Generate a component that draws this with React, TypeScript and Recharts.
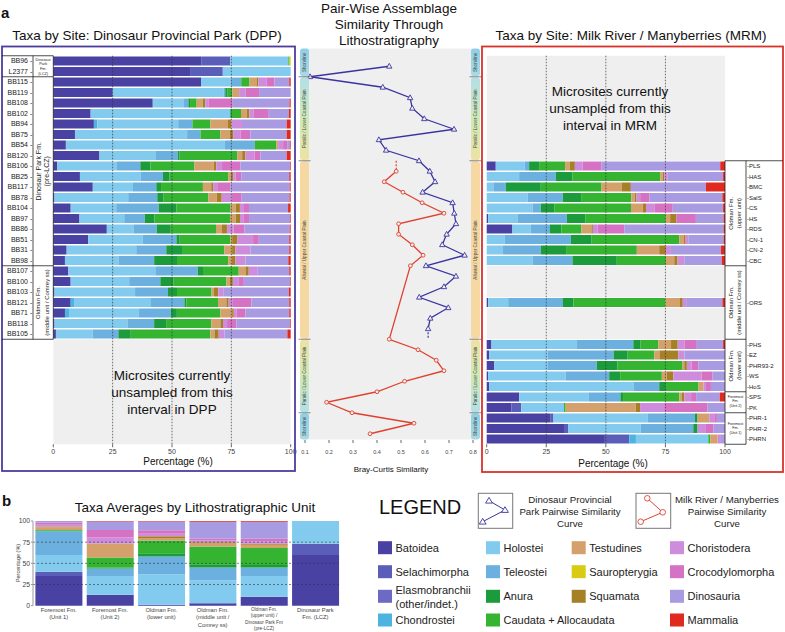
import React from "react";
import {
  BarChart,
  Bar,
  XAxis,
  YAxis,
  ReferenceArea,
  ReferenceLine,
  ScatterChart,
  Scatter,
  CartesianGrid,
} from "recharts";

const FONT = '"Liberation Sans", Arial, Helvetica, sans-serif';

// taxa in stacking order
const taxa = [
  "Batoidea",
  "Selachimorpha",
  "Elasmobranchii (other/indet.)",
  "Chondrostei",
  "Holostei",
  "Teleostei",
  "Anura",
  "Caudata + Allocaudata",
  "Testudines",
  "Sauropterygia",
  "Squamata",
  "Choristodera",
  "Crocodylomorpha",
  "Dinosauria",
  "Mammalia",
];
const taxaColors = [
  "#4a42a3", "#5b5eb9", "#6c6ac4", "#4db3e1", "#82cbee", "#6bb0df", "#1b9b3c", "#35b432",
  "#d4a06b", "#d8cb12", "#a68027", "#cd8cdc", "#d672c4", "#a99be2", "#e0291f",
];

// DPP sites (top to bottom) and % of each taxon
const dppSites = [
  "BB96", "L2377", "BB115", "BB119", "BB108", "BB102", "BB94", "BB75", "BB54", "BB120",
  "BB106", "BB25", "BB117", "BB78", "BB104", "BB97", "BB86", "BB51", "BB31", "BB98",
  "BB107", "BB100", "BB103", "BB121", "BB71", "BB118", "BB105",
];
const dppShares = [
  [62.5, 12, 0, 0, 24.5, 0, 0, 0.5, 0, 0.5, 0, 0, 0, 0, 0],
  [57.6, 13.8, 0, 0, 28.6, 0, 0, 0, 0, 0, 0, 0, 0, 0, 0],
  [62.1, 0, 0, 0, 12.4, 4.5, 0, 3.5, 2.9, 0, 0.8, 3.4, 3.4, 6.2, 0.6],
  [25, 0, 0, 0, 46.6, 0.7, 1, 2, 2.8, 0, 0, 2.8, 5.6, 13.3, 0],
  [41.9, 0, 0, 0, 12.9, 2.1, 0.7, 2.8, 2.5, 0, 1.1, 1.3, 10.3, 23.9, 0.5],
  [15.7, 0, 0, 0, 58.7, 0, 0.7, 3.8, 2.4, 0, 1.1, 1.7, 6.5, 8.4, 0.8],
  [17.1, 0, 0, 1.4, 34.1, 6, 0, 7.6, 7.4, 0, 1.4, 4.9, 0, 18.4, 1.7],
  [9.1, 0, 0, 0, 47.1, 5.6, 0, 8.4, 3.8, 0, 1.5, 3.1, 4.2, 15.2, 1.7],
  [5.3, 0, 0, 0, 67, 12.6, 0, 9.1, 0.7, 0, 0, 2.1, 1.7, 1.1, 0.4],
  [19.4, 0, 0, 0, 23.5, 9.4, 0.8, 24.2, 2.1, 0, 1.4, 3.8, 2.5, 11, 1.7],
  [1.7, 0, 0, 0, 25, 9.8, 4.2, 18.5, 8.1, 0, 1.1, 2.4, 7.7, 20.8, 0.3],
  [11.2, 0, 0, 0, 25.6, 9.3, 2.8, 24.6, 1, 0, 1.1, 1, 2.4, 20.2, 0.6],
  [16.6, 0, 0, 0, 16.9, 9.8, 2, 17.6, 3.5, 0, 0.8, 1.7, 5.6, 24.9, 0.4],
  [0.5, 0, 0, 0, 31, 12.2, 2.5, 19, 3.5, 0, 2.1, 4.2, 4.2, 20.1, 0.5],
  [7.3, 0, 0, 0, 19.1, 17.8, 7.4, 22.8, 2.1, 0, 1.8, 1.7, 2.1, 16.4, 1.1],
  [11, 0, 0, 0, 18.8, 8.6, 4.1, 31.7, 2.4, 0, 1.8, 1.4, 2.4, 17.2, 0.3],
  [22.5, 0, 0, 0, 11.2, 9.8, 5.9, 19, 2.5, 0, 2.1, 2.8, 4.5, 19.1, 0.4],
  [14.7, 0, 0, 0, 22.8, 14.2, 1.4, 21.3, 0.7, 0, 2.1, 6.7, 2.4, 12.8, 0.6],
  [5.6, 0, 0, 0, 29.2, 12.6, 6.6, 17.8, 3.2, 0, 1.4, 6.3, 0, 16.3, 0.6],
  [4.9, 0, 0, 0, 22.5, 15, 9.6, 21.5, 1.4, 0, 1.7, 4.2, 0, 18, 1],
  [6.3, 0, 0, 0, 36.5, 17.8, 2.2, 15, 2.8, 0, 1.4, 3.8, 0, 13.2, 0.6],
  [7.3, 0, 0, 0, 24.6, 13.1, 5.6, 22.2, 1.3, 0, 1.4, 2.5, 2.1, 19.4, 0.3],
  [0.5, 0, 0, 0, 33.8, 13.8, 3.8, 14.5, 1, 0, 1.8, 2.1, 0, 27.5, 0.8],
  [7.3, 0, 0, 1.4, 32, 14.3, 0.8, 13.3, 3.5, 0, 1, 1.8, 7.7, 15.9, 0.6],
  [4.9, 0, 0, 1.7, 29.2, 13.6, 2.5, 18.3, 4.9, 0, 0.7, 1.1, 3.8, 18.4, 0.6],
  [0.5, 0, 0, 0, 30.6, 11.2, 5.3, 18.7, 3.8, 0, 1.1, 1.7, 3.9, 22.5, 0.3],
  [1.1, 0, 0, 0, 15.4, 10.8, 5.2, 33.4, 1.7, 0, 1.8, 2.4, 0, 26.4, 1.4],
];
const dppUnsampledRows = 10;

// MRM sites (top to bottom) and % of each taxon
const mrmSites = [
  "PLS", "HAS", "BMC", "SalS", "CS", "HS", "RDS", "CN-1", "CN-2", "CBC", "ORS",
  "PHS", "EZ", "PHR93-2", "WS", "HoS", "SPS", "PK", "PHR-1", "PHR-2", "PHRN",
];
const mrmShares = [
  [3.8, 0, 0, 0, 12.2, 1.8, 4.2, 10.9, 2, 0, 2.1, 3.2, 8, 49.8, 2],
  [0, 0, 0, 0, 13.6, 15.4, 7, 36.8, 1, 0, 0.7, 1.4, 0, 23.2, 0.8],
  [0, 0, 0, 0, 2.8, 5.2, 14.7, 25.5, 8.4, 0, 3.9, 0, 0, 31.5, 8],
  [0, 0, 0, 0, 17.1, 14.7, 7.7, 21, 1.4, 0, 0.8, 1.5, 3.9, 30.5, 1.1],
  [0, 0, 0, 0, 19.2, 3.5, 5.6, 32.2, 4.9, 0, 1.4, 3.5, 7.7, 21.1, 0.8],
  [0.6, 0, 0, 0, 12.3, 20.7, 7.7, 33.8, 1.8, 0, 2.7, 0, 8.1, 11.6, 0.6],
  [10.8, 0, 0, 0, 7.7, 8.1, 4.8, 8.4, 4.2, 0, 0.6, 2, 11.2, 41.7, 0.6],
  [0, 0, 0, 0, 7.6, 27.7, 8.7, 36.8, 1.8, 0, 0.8, 1.1, 0, 14.8, 0.6],
  [0, 0, 0, 0, 6.6, 16.1, 10.9, 29.4, 9.4, 0, 2.8, 2.1, 0, 21, 1.7],
  [0, 0, 0, 0, 19.2, 16.8, 18.6, 20.6, 3.5, 0, 1.4, 2.8, 0, 15.7, 1.4],
  [0.6, 0, 0, 0, 8.4, 22.8, 4.6, 38.5, 5.9, 0, 1.4, 1.4, 0, 15.2, 1.1],
  [2, 0, 0, 0, 35.8, 23.6, 2.9, 7.6, 5.3, 0, 2.8, 2.8, 5.2, 11, 0.8],
  [1, 0, 0, 0, 24.5, 27.7, 5.9, 11.2, 2.1, 0, 8, 2.5, 0, 17, 0],
  [3.1, 0, 0, 0, 22.4, 20.7, 8.7, 27.3, 0.7, 0, 1.1, 2, 2.8, 11.2, 0],
  [0.6, 0, 0, 0, 32.6, 18.2, 4.6, 17.5, 2.1, 0, 2.7, 11.9, 4.6, 5.2, 0],
  [1, 0, 0, 0, 60.6, 10.8, 2.8, 13.7, 2.1, 0, 0, 1, 2.1, 5.9, 0],
  [13.6, 0, 0, 0, 29, 13.4, 1.1, 23.6, 1, 0, 1.1, 2.8, 2.1, 9.9, 2.2],
  [10.3, 4.2, 0, 0, 17.9, 0, 0, 0.7, 29.4, 0, 1.8, 10.1, 18.2, 7.3, 0],
  [26.6, 1.4, 0, 0, 39.4, 19.9, 1.1, 0, 4.9, 0, 0, 2.1, 1.1, 3.4, 0],
  [32.4, 1.7, 0, 0, 30.5, 22, 1.8, 0, 0, 0, 0, 3.5, 3.2, 4.8, 0],
  [49.5, 10.2, 0, 2.8, 30.3, 0, 0, 0.8, 3.1, 0, 0, 1.4, 0, 1.7, 0],
];
// unsampled rows inserted before these sites
const mrmGapsBefore: Record<string, number> = { PLS: 10, ORS: 3, PHS: 3 };

// Bray-Curtis similarity of consecutive sites, by stratigraphic level
const dppPairSimilarity = [
  0.451, 0.121, 0.424, 0.538, 0.547, 0.597, 0.721, 0.408, 0.438, 0.575, 0.62, 0.642, 0.59,
  0.715, 0.722, 0.729, 0.69, 0.672, 0.765, 0.604, 0.729, 0.679, 0.576, 0.697, 0.622, 0.613,
];
const mrmPairSimilarity = [
  0.48, 0.43, 0.508, 0.588, 0.679, 0.49, 0.49, 0.547, 0.592, 0.539,
  0.451, 0.571, 0.647, 0.679, 0.515, 0.4, 0.19, 0.296, 0.554, 0.371,
];
const mrmPairLevels = [10, 11, 12, 13, 14, 15, 16, 17, 18, 19, 26, 27, 28, 29, 30, 31, 32, 33, 34, 35];
const similarityTicks = [0.1, 0.2, 0.3, 0.4, 0.5, 0.6, 0.7, 0.8];

// averages by lithostratigraphic unit
const unitNames = [
  "Foremost Fm.\n(Unit 1)",
  "Foremost Fm.\n(Unit 2)",
  "Oldman Fm.\n(lower unit)",
  "Oldman Fm.\n(middle unit /\nComrey ss)",
  "Oldman Fm.\n(upper unit) /\nDinosaur Park Fm\n(pre-LCZ)",
  "Dinosaur Park\nFm. (LCZ)",
];
const unitShares = [
  [35, 5, 0, 0, 20, 28, 0.5, 1, 3, 0, 1, 2, 2.5, 2, 0],
  [12.5, 0.5, 0, 0, 22, 9, 1, 12, 16, 0, 0.5, 7, 9, 10, 0.5],
  [1, 0, 0, 0, 36, 21, 4, 15, 3, 0, 2, 3, 4, 10.5, 0.5],
  [3, 0, 0, 0, 27, 15, 4, 21, 4, 0, 1, 2, 2, 20, 1],
  [10.5, 0, 0, 0, 24.5, 10, 3, 20, 4, 0, 1, 3, 3, 20, 1],
  [60, 13, 0, 0, 27, 0, 0, 0, 0, 0, 0, 0, 0, 0, 0],
];

const pctTicks = [0, 0.25, 0.5, 0.75, 1];
const legendColumns = [[0, 1, 2, 3], [4, 5, 6, 7], [8, 9, 10], [11, 12, 13, 14]];

const BLUE = "#3b34a0";
const RED = "#e0412f";
const GREY = "#efefef";

const toRow = (name: string, shares: number[]) => {
  const row: Record<string, any> = { name };
  shares.forEach((v, j) => (row[`t${j}`] = v));
  return row;
};

const dppRows = [
  ...dppSites.map((s, i) => toRow(s, dppShares[i])),
  ...Array.from({ length: dppUnsampledRows }, (_, i) => ({ name: `dgap${i}` })),
];

const mrmRows: Record<string, any>[] = [];
let gapCount = 0;
mrmSites.forEach((s, i) => {
  for (let g = 0; g < (mrmGapsBefore[s] || 0); g++) mrmRows.push({ name: `mgap${gapCount++}` });
  mrmRows.push(toRow(s, mrmShares[i]));
});

const unitRows = unitNames.map((n, i) => toRow(n, unitShares[i]));

const dppPairs = dppPairSimilarity.map((sim, i) => ({ sim, k: i }));
const mrmPairs = mrmPairSimilarity.map((sim, i) => ({ sim, k: mrmPairLevels[i] }));
const dppLast = dppPairs[dppPairs.length - 1];
const dppTail = [dppLast, { sim: dppLast.sim, k: dppLast.k + 1 }];
const mrmHead = [{ sim: mrmPairs[0].sim, k: mrmPairs[0].k - 1 }, mrmPairs[0]];
const levelTicks = Array.from({ length: 37 }, (_, i) => i - 1);

const pctFmt = (v: number) => String(Math.round(v * 100));

const DppTick = (props: any) => {
  const { x, y, payload } = props;
  const v = String(payload.value);
  if (v.startsWith("dgap")) return <g />;
  return (
    <text x={x} y={y} dy="0.35em" textAnchor="end" fontSize={7} fill="#222">
      {v} -
    </text>
  );
};

const MrmTick = (props: any) => {
  const { x, y, payload } = props;
  const v = String(payload.value);
  if (v.startsWith("mgap")) return <g />;
  return (
    <text x={x} y={y} dy="0.35em" textAnchor="start" fontSize={6} fill="#222">
      -{v}
    </text>
  );
};

const UnitTick = (props: any) => {
  const { x, y, payload } = props;
  const lines = String(payload.value).split("\n");
  const fs = lines.length > 3 ? 4.7 : 5.8;
  const lh = lines.length > 3 ? 6.4 : 7.4;
  return (
    <g>
      {lines.map((l, i) => (
        <text key={i} x={x} y={y + fs * 0.8 + i * lh} textAnchor="middle" fontSize={fs} fill="#444">
          {l}
        </text>
      ))}
    </g>
  );
};

const triangleMark = (p: any) => (
  <polygon
    points={`${p.cx},${p.cy - 2.9} ${p.cx + 2.7},${p.cy + 1.9} ${p.cx - 2.7},${p.cy + 1.9}`}
    fill={GREY}
    stroke={BLUE}
    strokeWidth={0.9}
  />
);
const circleMark = (p: any) => <circle cx={p.cx} cy={p.cy} r={1.9} fill={GREY} stroke={RED} strokeWidth={0.9} />;
const noMark = () => <g />;

const taxaBars = () =>
  taxa.map((t, j) => (
    <Bar key={t} dataKey={`t${j}`} name={t} stackId="s" fill={taxaColors[j]} isAnimationActive={false} />
  ));

const Txt = ({ x, y, children, size, anchor = "middle", fill = "#111", weight }: any) => (
  <text x={x} y={y} fontSize={size} textAnchor={anchor} dominantBaseline="central" fill={fill} fontWeight={weight}>
    {children}
  </text>
);

const VTxt = ({ x, y, children, size, fill = "#222" }: any) => (
  <text
    transform={`translate(${x},${y}) rotate(-90)`}
    fontSize={size}
    textAnchor="middle"
    dominantBaseline="central"
    fill={fill}
  >
    {children}
  </text>
);

// environment strips beside the similarity plot
const strips = [
  { y0: 48, y1: 76.75, fill: "url(#shore)", label: "Shoreline" },
  { y0: 76.75, y1: 160.75, fill: "url(#paralicDown)", label: "Paralic / Lower Coastal Plain" },
  { y0: 160.75, y1: 339.25, fill: "#f5d8a2", label: "Alluvial / Upper Coastal Plain" },
  { y0: 339.25, y1: 412.75, fill: "url(#paralicUp)", label: "Paralic / Lower Coastal Plain" },
  { y0: 412.75, y1: 440, fill: "url(#shore)", label: "Shoreline" },
];

export default function App() {
  return (
    <div
      style={{
        position: "absolute",
        left: 0,
        top: 0,
        width: 785,
        height: 632,
        background: "#fff",
        overflow: "hidden",
        fontFamily: FONT,
      }}
    >
      {/* DPP bars */}
      <div style={{ position: "absolute", left: 0, top: 0 }}>
        <BarChart
          width={300}
          height={480}
          data={dppRows}
          layout="vertical"
          stackOffset="expand"
          barCategoryGap={0.75}
          margin={{ top: 55.75, right: 9.3, bottom: 15.75, left: 0 }}
        >
          <XAxis
            type="number"
            domain={[0, 1]}
            ticks={pctTicks}
            tickFormatter={pctFmt}
            axisLine={false}
            tickSize={3}
            tickMargin={1.5}
            height={20}
            tick={{ fontSize: 7, fill: "#444" }}
            tickLine={{ stroke: "#666" }}
          />
          <YAxis
            type="category"
            dataKey="name"
            width={53.3}
            interval={0}
            tick={DppTick}
            tickLine={false}
            axisLine={false}
            tickSize={0}
            tickMargin={21}
          />
          <ReferenceArea y1="dgap0" y2={`dgap${dppUnsampledRows - 1}`} fill={GREY} fillOpacity={1} stroke="none" />
          {taxaBars()}
          {[0.25, 0.5, 0.75].map((v) => (
            <ReferenceLine key={v} x={v} stroke="#333" strokeDasharray="1.5 1.5" strokeWidth={0.7} />
          ))}
        </BarChart>
      </div>

      {/* MRM bars */}
      <div style={{ position: "absolute", left: 480, top: 0 }}>
        <BarChart
          width={305}
          height={480}
          data={mrmRows}
          layout="vertical"
          stackOffset="expand"
          barCategoryGap={0.75}
          margin={{ top: 55.75, right: 0, bottom: 15.75, left: 6.7 }}
        >
          <XAxis
            type="number"
            domain={[0, 1]}
            ticks={pctTicks}
            tickFormatter={pctFmt}
            axisLine={false}
            tickSize={3}
            tickMargin={1.5}
            height={20}
            tick={{ fontSize: 7, fill: "#444" }}
            tickLine={{ stroke: "#666" }}
          />
          <YAxis
            type="category"
            dataKey="name"
            orientation="right"
            width={60}
            interval={0}
            tick={MrmTick}
            tickLine={false}
            axisLine={false}
            tickSize={0}
            tickMargin={22}
          />
          <ReferenceArea y1="mgap10" y2="mgap12" fill={GREY} fillOpacity={1} stroke="none" />
          <ReferenceArea y1="mgap13" y2="mgap15" fill={GREY} fillOpacity={1} stroke="none" />
          {taxaBars()}
          {[0.25, 0.5, 0.75].map((v) => (
            <ReferenceLine key={v} x={v} stroke="#333" strokeDasharray="1.5 1.5" strokeWidth={0.7} />
          ))}
          <ReferenceArea y1="mgap0" y2="mgap9" fill={GREY} fillOpacity={1} stroke="none" />
        </BarChart>
      </div>

      {/* pair-wise similarity */}
      <div style={{ position: "absolute", left: 290, top: 0 }}>
        <ScatterChart width={200} height={480} margin={{ top: 48, right: 17, bottom: 0, left: 15 }}>
          <CartesianGrid vertical={false} stroke="#fff" strokeWidth={1} fill={GREY} />
          <XAxis
            type="number"
            dataKey="sim"
            domain={[0.1, 0.8]}
            ticks={similarityTicks}
            tickFormatter={(v: number) => v.toFixed(1)}
            allowDataOverflow
            axisLine={false}
            height={40}
            tickSize={3}
            tickMargin={7}
            tick={{ fontSize: 5.5, fill: "#444" }}
            tickLine={{ stroke: "#666" }}
          />
          <YAxis
            type="number"
            dataKey="k"
            domain={[-1.738, 35.595]}
            reversed
            allowDataOverflow
            ticks={levelTicks}
            width={0}
            tick={false}
            axisLine={false}
            tickLine={false}
          />
          <Scatter
            data={dppTail}
            line={{ stroke: BLUE, strokeWidth: 1.2, strokeDasharray: "2 1.5" }}
            lineType="joint"
            shape={noMark}
            isAnimationActive={false}
          />
          <Scatter
            data={mrmHead}
            line={{ stroke: RED, strokeWidth: 1.2, strokeDasharray: "2 1.5" }}
            lineType="joint"
            shape={noMark}
            isAnimationActive={false}
          />
          <Scatter
            data={dppPairs}
            line={{ stroke: BLUE, strokeWidth: 1.3 }}
            lineType="joint"
            shape={triangleMark}
            fill={GREY}
            isAnimationActive={false}
          />
          <Scatter
            data={mrmPairs}
            line={{ stroke: RED, strokeWidth: 1.3 }}
            lineType="joint"
            shape={circleMark}
            fill={GREY}
            isAnimationActive={false}
          />
        </ScatterChart>
      </div>

      {/* averages */}
      <div style={{ position: "absolute", left: 0, top: 480 }}>
        <BarChart
          width={350}
          height={152}
          data={unitRows}
          stackOffset="expand"
          barCategoryGap={2.4}
          margin={{ top: 41, right: 9, bottom: 0, left: 0 }}
        >
          <XAxis
            type="category"
            dataKey="name"
            height={26.3}
            interval={0}
            tick={UnitTick}
            tickLine={false}
            axisLine={false}
            tickSize={0}
            tickMargin={1.5}
          />
          <YAxis
            type="number"
            domain={[0, 1]}
            ticks={pctTicks}
            tickFormatter={pctFmt}
            width={33}
            tickSize={2}
            tickMargin={1}
            tick={{ fontSize: 6.8, fill: "#444" }}
            axisLine={{ stroke: "#999" }}
            tickLine={{ stroke: "#999" }}
          />
          {taxaBars()}
          {[0.25, 0.5, 0.75].map((v) => (
            <ReferenceLine key={v} y={v} stroke="#333" strokeDasharray="2 2" strokeWidth={0.6} />
          ))}
        </BarChart>
      </div>

      {/* annotations */}
      <svg
        width={785}
        height={632}
        style={{ position: "absolute", left: 0, top: 0, pointerEvents: "none" }}
        fontFamily={FONT}
      >
        <defs>
          <linearGradient id="shore" x1="0" y1="0" x2="0" y2="1">
            <stop offset="0" stopColor="#8ecfe6" />
            <stop offset="1" stopColor="#a9dae4" />
          </linearGradient>
          <linearGradient id="paralicDown" x1="0" y1="0" x2="0" y2="1">
            <stop offset="0" stopColor="#b3dfe6" />
            <stop offset="0.5" stopColor="#cfeab6" />
            <stop offset="1" stopColor="#ede2a4" />
          </linearGradient>
          <linearGradient id="paralicUp" x1="0" y1="0" x2="0" y2="1">
            <stop offset="0" stopColor="#ede2a4" />
            <stop offset="0.5" stopColor="#cfeab6" />
            <stop offset="1" stopColor="#b3dfe6" />
          </linearGradient>
        </defs>

        <Txt x={1} y={12} size={15} anchor="start" weight="bold">a</Txt>
        <Txt x={2} y={500} size={15} anchor="start" weight="bold">b</Txt>

        <Txt x={147} y={35.7} size={13.5}>Taxa by Site: Dinosaur Provincial Park (DPP)</Txt>
        <Txt x={631} y={35.7} size={13.5}>Taxa by Site: Milk River / Manyberries (MRM)</Txt>
        <Txt x={389} y={8} size={13.5}>Pair-Wise Assemblage</Txt>
        <Txt x={389} y={24} size={13.5}>Similarity Through</Txt>
        <Txt x={389} y={40} size={13.5}>Lithostratigraphy</Txt>

        {/* panel borders */}
        <rect x={2} y={46.5} width={293} height={424.5} fill="none" stroke="#4b3d9e" strokeWidth={1.8} />
        <rect x={482} y={46.5} width={301} height={425.5} fill="none" stroke="#d8322a" strokeWidth={1.8} />

        {/* DPP unit column */}
        <g stroke="#222" strokeWidth={0.8}>
          <line x1={2} x2={53.3} y1={55.75} y2={55.75} />
          <line x1={2} x2={53.3} y1={76.75} y2={76.75} />
          <line x1={2} x2={53.3} y1={265.75} y2={265.75} />
          <line x1={2} x2={53.3} y1={339.25} y2={339.25} />
          <line x1={33} x2={33} y1={55.75} y2={339.25} />
          <line x1={53.3} x2={53.3} y1={55.75} y2={339.25} />
        </g>
        {["Dinosaur", "Park", "Fm.", "(LCZ)"].map((s, i) => (
          <Txt key={s} x={43.2} y={59.8 + i * 4.6} size={3.8} fill="#222">{s}</Txt>
        ))}
        <VTxt x={38} y={171.25} size={7}>Dinosaur Park Fm.</VTxt>
        <VTxt x={46.5} y={171.25} size={7}>(pre-LCZ)</VTxt>
        <VTxt x={38} y={302.5} size={6}>Oldman Fm.</VTxt>
        <VTxt x={46.5} y={302.5} size={6}>(middle unit / Comrey ss)</VTxt>

        {/* MRM unit column */}
        <g stroke="#222" strokeWidth={0.8}>
          <line x1={725} x2={783} y1={160.75} y2={160.75} />
          <line x1={725} x2={746} y1={265.75} y2={265.75} />
          <line x1={725} x2={746} y1={339.25} y2={339.25} />
          <line x1={725} x2={746} y1={391.75} y2={391.75} />
          <line x1={725} x2={746} y1={412.75} y2={412.75} />
          <line x1={725} x2={746} y1={444.25} y2={444.25} />
          <line x1={725} x2={725} y1={160.75} y2={444.25} />
          <line x1={746} x2={746} y1={160.75} y2={444.25} />
        </g>
        <VTxt x={731} y={213.25} size={6}>Oldman Fm.</VTxt>
        <VTxt x={739} y={213.25} size={6}>(upper unit)</VTxt>
        <VTxt x={731} y={302.5} size={5.8}>Oldman Fm.</VTxt>
        <VTxt x={739} y={302.5} size={5.8}>(middle unit / Comrey ss)</VTxt>
        <VTxt x={731} y={365.5} size={5.8}>Oldman Fm.</VTxt>
        <VTxt x={739} y={365.5} size={5.8}>(lower unit)</VTxt>
        {["Foremost", "Fm.", "(Unit 2)"].map((s, i) => (
          <Txt key={s} x={735.5} y={396.5 + i * 4.5} size={3.7} fill="#222">{s}</Txt>
        ))}
        {["Foremost", "Fm.", "(Unit 1)"].map((s, i) => (
          <Txt key={s} x={735.5} y={423.5 + i * 4.6} size={3.7} fill="#222">{s}</Txt>
        ))}

        {/* environment strips */}
        {[300, 471].map((x0) => (
          <g key={x0}>
            {strips.map((s, i) => (
              <g key={i}>
                <rect x={x0} y={s.y0 + 0.4} width={9} height={s.y1 - s.y0 - 0.8} rx={3} fill={s.fill} />
                <VTxt x={x0 + 4.5} y={(s.y0 + s.y1) / 2} size={4.6} fill="#444">{s.label}</VTxt>
                {i > 0 && <line x1={x0 - 1.5} x2={x0 + 10.5} y1={s.y0} y2={s.y0} stroke="#555" strokeWidth={0.7} />}
              </g>
            ))}
          </g>
        ))}

        {/* unsampled notes */}
        <Txt x={172} y={375} size={13.5}>Microsites currently</Txt>
        <Txt x={172} y={392} size={13.5}>unsampled from this</Txt>
        <Txt x={172} y={409} size={13.5}>interval in DPP</Txt>
        <Txt x={610} y={91.7} size={13.5}>Microsites currently</Txt>
        <Txt x={610} y={108.7} size={13.5}>unsampled from this</Txt>
        <Txt x={610} y={125.7} size={13.5}>interval in MRM</Txt>

        {/* axis titles */}
        <Txt x={178} y={461} size={10}>Percentage (%)</Txt>
        <Txt x={613} y={463} size={10}>Percentage (%)</Txt>
        <Txt x={391} y={469} size={8}>Bray-Curtis Similarity</Txt>
        <VTxt x={17.5} y={563} size={5.5} fill="#444">Percentage (%)</VTxt>
        <Txt x={195} y={507} size={13.5}>Taxa Averages by Lithostratigraphic Unit</Txt>

        {/* legend */}
        <Txt x={379} y={506.7} size={20} anchor="start">LEGEND</Txt>
        <rect x={478.3} y={493.3} width={34.4} height={35} fill="none" stroke="#777" strokeWidth={1} />
        <polyline points="489,500.7 505,510 482.7,521.7" fill="none" stroke={BLUE} strokeWidth={1} />
        {[[489, 500.7], [505, 510], [482.7, 521.7]].map(([x, y], i) => (
          <polygon
            key={i}
            points={`${x},${y - 3.3} ${x + 3.4},${y + 2.4} ${x - 3.4},${y + 2.4}`}
            fill="#fff"
            stroke={BLUE}
            strokeWidth={0.9}
          />
        ))}
        <Txt x={570} y={499.3} size={9.7} fill="#222">Dinosaur Provincial</Txt>
        <Txt x={570} y={511.7} size={9.7} fill="#222">Park Pairwise Similarity</Txt>
        <Txt x={570} y={523.3} size={9.7} fill="#222">Curve</Txt>
        <rect x={636} y={493.3} width={34.7} height={35} fill="none" stroke="#777" strokeWidth={1} />
        <polyline points="647.3,498.3 662.7,512.3 640.7,521.7" fill="none" stroke={RED} strokeWidth={1} />
        {[[647.3, 498.3], [662.7, 512.3], [640.7, 521.7]].map(([x, y], i) => (
          <circle key={i} cx={x} cy={y} r={2.8} fill="#fff" stroke={RED} strokeWidth={0.9} />
        ))}
        <Txt x={727} y={499.3} size={9.7} fill="#222">Milk River / Manyberries</Txt>
        <Txt x={727} y={511.7} size={9.7} fill="#222">Pairwise Similarity</Txt>
        <Txt x={727} y={523.3} size={9.7} fill="#222">Curve</Txt>

        {legendColumns.map((col, c) => {
          const sx = [378, 486, 571.7, 670][c];
          return col.map((ti, r) => {
            const cy = [547.7, 571.7, 596.3, 620][r];
            const name = taxa[ti];
            const parts = name.startsWith("Elasmobranchii") ? ["Elasmobranchii", "(other/indet.)"] : [name];
            return (
              <g key={ti}>
                <rect x={sx} y={cy - 6.5} width={14} height={13} fill={taxaColors[ti]} />
                {parts.map((p, pi) => (
                  <Txt
                    key={p}
                    x={sx + 17.5}
                    y={parts.length > 1 ? cy - 6.5 + pi * 14 : cy}
                    size={11}
                    anchor="start"
                    fill="#222"
                  >
                    {p}
                  </Txt>
                ))}
              </g>
            );
          });
        })}
      </svg>
    </div>
  );
}
